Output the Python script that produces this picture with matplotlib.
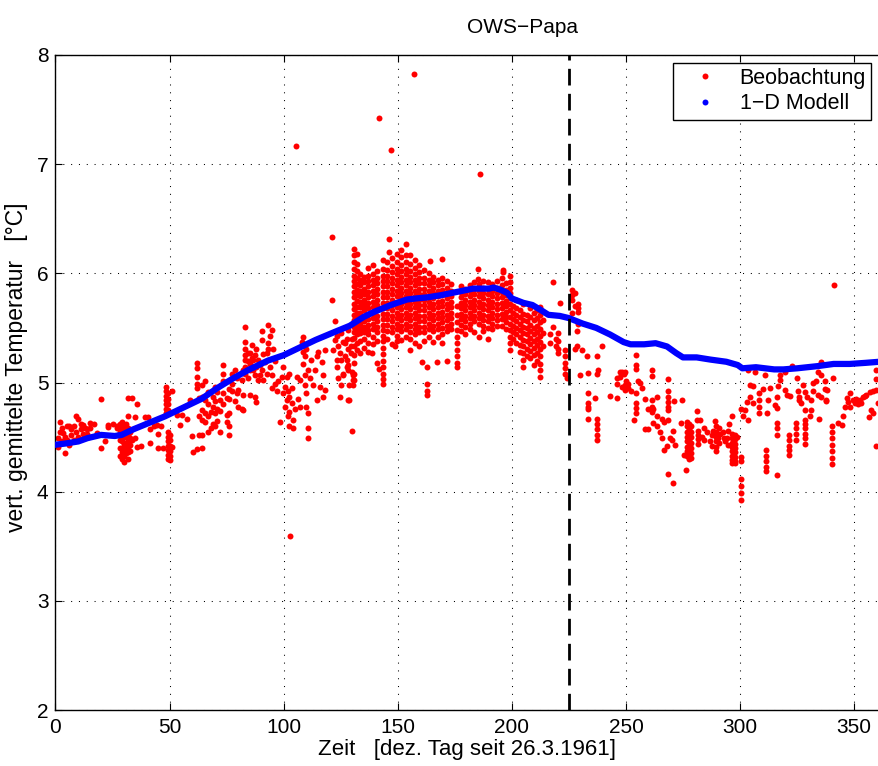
"""
OWS-Papa: vertikal gemittelte Temperatur, Beobachtung vs. 1-D Modell
"""
import matplotlib
matplotlib.use('Agg')
import matplotlib.pyplot as plt
from matplotlib.lines import Line2D

plt.rcParams['font.family'] = ['Liberation Sans', 'DejaVu Sans']

# ==================== Daten ====================
# 1-D Modell (Tag, Temperatur)
model_day = [0, 4, 10, 14, 20, 26, 29, 34, 41, 48, 55, 64, 71, 78, 85, 93, 100, 107, 114, 122,
             129, 135, 140, 147, 154, 158, 163, 169, 176, 183, 190, 192, 195, 198, 200, 205, 209,
             213, 216, 221, 225, 231, 237, 243, 249, 252, 258, 263, 268, 272, 275, 281, 287, 294,
             299, 301, 307, 315, 319, 325, 334, 341, 348, 355, 361]
model_temp = [4.43, 4.44, 4.46, 4.49, 4.52, 4.51, 4.52, 4.57, 4.63, 4.69, 4.76, 4.85, 4.95, 5.04,
              5.12, 5.20, 5.25, 5.32, 5.39, 5.46, 5.52, 5.60, 5.65, 5.71, 5.76, 5.77, 5.78, 5.80,
              5.83, 5.86, 5.86, 5.87, 5.85, 5.82, 5.77, 5.73, 5.71, 5.66, 5.62, 5.61, 5.59, 5.54,
              5.50, 5.44, 5.37, 5.35, 5.35, 5.36, 5.33, 5.27, 5.23, 5.23, 5.21, 5.19, 5.16, 5.13,
              5.14, 5.12, 5.12, 5.13, 5.15, 5.17, 5.17, 5.18, 5.19]

# Beobachtungen: (Tag, [Temperaturen des Profils])
obs_spring = [
    (1, [4.49, 4.41]), (2, [4.64, 4.55]), (3, [4.58, 4.46]), (3.5, [4.54]), (4.2, [4.35, 4.50]),
    (5, [4.60, 4.47]), (6, [4.60, 4.43]), (7, [4.57, 4.52]), (8, [4.60, 4.47]), (9, [4.69, 4.55]),
    (10, [4.67, 4.50]), (11, [4.62, 4.57]), (12, [4.53, 4.61]), (13, [4.58]), (14, [4.57, 4.53]),
    (15, [4.58, 4.63]), (17, [4.62]), (18, [4.54]), (20, [4.85, 4.40]), (21.7, [4.46]),
    (23, [4.59, 4.61]), (25, [4.62]), (27, [4.58, 4.60]),
    (28.5, [4.62, 4.55, 4.47, 4.40, 4.33]),
    (29.3, [4.64, 4.58, 4.52, 4.46, 4.40, 4.36, 4.30]),
    (30.1, [4.60, 4.54, 4.50, 4.44, 4.38, 4.33, 4.27]),
    (30.9, [4.62, 4.56, 4.50, 4.45, 4.40, 4.35]),
    (31.7, [4.86, 4.69, 4.58, 4.52, 4.46, 4.41, 4.36, 4.30]),
    (32.5, [4.55, 4.49, 4.43, 4.37]),
    (33.7, [4.86, 4.47]), (34.9, [4.68, 4.49]), (35.6, [4.80, 4.41]), (37.5, [4.42]),
    (39.2, [4.68]), (40.7, [4.68]), (41.4, [4.45, 4.57]), (43, [4.60]), (44.4, [4.61]),
    (45.1, [4.40, 4.53]), (46.3, [4.60]), (47.3, [4.40]),
    (48.5, [4.96, 4.92, 4.88, 4.84, 4.80, 4.76, 4.72]),
    (49.4, [4.90, 4.85, 4.80, 4.75, 4.55, 4.50, 4.46, 4.42, 4.38, 4.34, 4.30]),
    (50.3, [4.52, 4.47, 4.42, 4.37, 4.33, 4.29]),
    (51.2, [4.92, 4.41]), (53.1, [4.70]), (54.6, [4.61]), (55.3, [4.70]), (57.5, [4.67]),
    (58.9, [4.84]), (59.7, [4.51]), (60.4, [4.36]),
    (62, [5.18, 5.13, 5.05, 4.99, 4.95, 4.39]), (63, [4.86, 4.69, 4.52]),
]

obs_summer1 = [
    (64, [4.98, 4.87, 4.75, 4.66, 4.52, 4.40]), (65.5, [5.01, 4.84, 4.72, 4.64]),
    (67, [4.91, 4.80, 4.69, 4.55]), (68, [4.73, 4.58]), (69, [4.87, 4.78, 4.62]),
    (70, [4.96, 4.83, 4.72, 4.60]), (71, [4.91, 4.76, 4.65]), (72, [4.84, 4.74, 4.55]),
    (73.5, [5.16, 5.08, 5.01, 4.90, 4.80]), (75, [4.86, 4.70, 4.64]),
    (76, [4.94, 4.85, 4.72, 4.60, 4.52]), (77.2, [5.08, 4.99, 4.92]), (78.6, [5.11, 4.83]),
    (79.4, [5.04, 4.90]), (80.1, [4.93, 4.78]), (81.6, [4.76, 5.02]), (82.3, [5.11, 4.75, 4.89]),
    (83, [5.51, 5.37, 5.31, 5.25, 5.21, 5.14, 5.08]), (84.5, [5.04, 5.27, 5.20]),
    (85.2, [5.27, 5.17, 5.11, 4.89]), (86, [5.34, 5.22]), (86.7, [5.21, 5.11]),
    (87.4, [5.25, 5.07, 4.87]), (88.1, [5.31, 5.14, 4.82]), (88.9, [5.21, 5.02]),
    (89.6, [5.07, 5.16]), (90.3, [5.47, 5.39, 5.11]), (91, [5.02, 5.26]), (91.8, [5.19]),
    (92.5, [5.27, 5.08]), (93, [5.53, 5.36, 5.31]), (94, [5.43, 5.14]),
    (94.7, [5.48, 5.07, 4.95]), (95.4, [5.31]), (96.2, [4.99, 5.20]), (96.9, [4.92]),
    (97.6, [5.01]), (98.4, [4.64]), (99.1, [5.05]), (99.8, [5.14, 4.90]), (100.5, [4.96, 4.78]),
    (101.3, [5.05, 4.84]), (102, [4.92, 4.69]), (102.4, [5.08, 4.87, 4.73, 4.60]),
    (102.8, [3.59]), (103.5, [4.95, 4.81]), (103.9, [4.58]), (104.2, [4.66]), (104.9, [4.76]),
    (105.4, [7.17]), (105.7, [5.05]), (106.4, [4.85]), (107.1, [5.02, 4.78]), (107.9, [5.37]),
    (108.6, [5.42, 5.28, 5.17]), (109.3, [5.24, 5.07, 4.98]), (110, [5.31, 4.90, 4.78]),
    (110.8, [5.11, 4.72, 4.58, 4.49]), (111.5, [5.04]), (112.2, [5.21]), (113, [4.98]),
    (113.7, [5.11]), (114.4, [5.24, 4.84]), (115.2, [5.28]), (115.9, [4.96]), (116.6, [5.19]),
    (117.3, [5.07, 4.87]), (118.1, [5.30, 4.93]), (121.1, [5.76, 6.33]), (121.7, [5.30]),
    (122.5, [5.39, 5.56]), (123.2, [5.43, 5.21, 5.14]), (123.9, [5.33, 5.04]),
    (124.6, [5.27, 4.87]), (125.3, [5.21, 4.98, 5.45]), (126.1, [5.37, 5.07, 5.08]),
    (126.9, [5.36, 5.24]), (127.6, [5.21, 5.14, 5.40]), (128.3, [5.48, 5.31, 5.16, 4.84, 5.11]),
    (128.8, [4.84, 4.98]), (129.5, [5.33, 5.27]), (130, [4.56, 5.10, 5.40]),
    (130.4, [5.07, 5.02, 4.98]),
]

obs_summer2 = [
    (131, [6.22, 6.17, 6.10, 6.04, 5.98, 5.93, 5.88, 5.83, 5.78, 5.72, 5.67, 5.62, 5.57, 5.51,
           5.46, 5.41, 5.33, 5.25, 5.18, 5.08, 5.02]),
    (132, [6.18, 6.09, 6.02, 5.96, 5.90, 5.85, 5.80, 5.75, 5.69, 5.64, 5.59, 5.54, 5.49, 5.44,
           5.36, 5.30]),
    (133.5, [5.99, 5.94, 5.89, 5.84, 5.79, 5.74, 5.69, 5.64, 5.59, 5.54, 5.49, 5.45, 5.38, 5.27]),
    (135, [5.97, 5.92, 5.86, 5.81, 5.76, 5.71, 5.66, 5.61, 5.56, 5.51, 5.46, 5.40, 5.32]),
    (137, [6.05, 5.98, 5.93, 5.88, 5.83, 5.78, 5.73, 5.68, 5.63, 5.58, 5.53, 5.48, 5.44, 5.36,
           5.28]),
    (138.6, [5.27]),
    (139, [6.08, 5.99, 5.94, 5.89, 5.84, 5.79, 5.74, 5.69, 5.64, 5.59, 5.54, 5.49, 5.42, 5.35]),
    (141, [6.02, 5.96, 5.91, 5.86, 5.81, 5.76, 5.71, 5.66, 5.61, 5.56, 5.51, 5.46, 5.38, 5.18]),
    (142, [7.42, 5.12]),
    (143.5, [6.12, 6.04, 5.98, 5.93, 5.88, 5.83, 5.78, 5.73, 5.68, 5.63, 5.58, 5.53, 5.48, 5.43,
             5.38, 5.32, 5.26, 5.20, 5.14, 5.08, 5.03, 4.99]),
    (145.5, [6.10, 6.03, 5.98, 5.93, 5.88, 5.83, 5.78, 5.73, 5.68, 5.63, 5.58, 5.53, 5.47, 5.40]),
    (146.3, [6.31, 6.20]), (147, [7.13]),
    (147.5, [6.14, 6.07, 6.01, 5.96, 5.91, 5.86, 5.81, 5.76, 5.71, 5.66, 5.61, 5.56, 5.51, 5.46,
             5.35]),
    (148.8, [5.33]),
    (149.5, [6.18, 6.10, 6.04, 5.99, 5.94, 5.89, 5.84, 5.79, 5.74, 5.69, 5.64, 5.59, 5.54, 5.49,
             5.43, 5.38]),
    (151.5, [6.21, 6.15, 6.08, 6.02, 5.97, 5.92, 5.87, 5.82, 5.77, 5.72, 5.67, 5.62, 5.57, 5.52,
             5.47, 5.39]),
    (153.5, [6.27, 6.17, 6.10, 6.04, 5.99, 5.94, 5.89, 5.84, 5.79, 5.74, 5.69, 5.64, 5.59, 5.54,
             5.49, 5.42]),
    (155.5, [6.17, 6.09, 6.02, 5.97, 5.92, 5.87, 5.82, 5.77, 5.72, 5.67, 5.62, 5.57, 5.52, 5.46,
             5.40, 5.30]),
    (157, [7.83]),
    (157.5, [6.12, 6.05, 5.99, 5.94, 5.89, 5.84, 5.79, 5.74, 5.69, 5.64, 5.59, 5.54, 5.49, 5.44,
             5.36]),
    (159.5, [6.08, 6.01, 5.96, 5.91, 5.86, 5.81, 5.76, 5.71, 5.66, 5.61, 5.56, 5.51, 5.46, 5.33]),
    (160.5, [5.19]),
    (161.5, [6.03, 5.96, 5.91, 5.86, 5.81, 5.76, 5.71, 5.66, 5.61, 5.56, 5.51, 5.46, 5.38]),
    (163, [5.14, 4.99, 4.92, 4.89]),
    (163.5, [6.00, 5.94, 5.89, 5.84, 5.79, 5.74, 5.69, 5.64, 5.59, 5.54, 5.49, 5.42]),
    (164.1, [6.11]),
    (165.5, [5.97, 5.92, 5.87, 5.82, 5.77, 5.72, 5.67, 5.62, 5.57, 5.52, 5.47, 5.37]),
    (167, [5.19]),
    (167.5, [5.94, 5.89, 5.84, 5.79, 5.74, 5.69, 5.64, 5.59, 5.54, 5.49, 5.42]),
    (169.3, [6.13]),
    (169.5, [5.96, 5.90, 5.85, 5.80, 5.75, 5.70, 5.65, 5.60, 5.55, 5.50, 5.44, 5.36]),
    (171.5, [5.93, 5.87, 5.82, 5.77, 5.72, 5.67, 5.62, 5.57, 5.52, 5.47, 5.20]),
    (173.5, [5.90, 5.84, 5.79, 5.74, 5.69, 5.64, 5.59, 5.54, 5.49]),
    (175.8, [5.70, 5.62, 5.55, 5.48, 5.42, 5.36, 5.30, 5.24, 5.18, 5.14]),
    (177.5, [5.88, 5.83, 5.78, 5.73, 5.68, 5.63, 5.58, 5.53, 5.47]),
    (179.5, [5.86, 5.81, 5.76, 5.71, 5.66, 5.61, 5.56, 5.51, 5.44]),
    (181.5, [5.89, 5.84, 5.79, 5.74, 5.69, 5.64, 5.59, 5.54, 5.49]),
    (183.5, [5.92, 5.86, 5.81, 5.76, 5.71, 5.66, 5.61, 5.56, 5.46]),
    (185.3, [6.04, 5.95]), (186, [6.91]),
    (185.5, [5.90, 5.84, 5.79, 5.74, 5.69, 5.64, 5.59, 5.54, 5.42]),
    (187.5, [5.93, 5.87, 5.82, 5.77, 5.72, 5.67, 5.62, 5.57, 5.52, 5.47]),
    (189.5, [5.92, 5.86, 5.81, 5.76, 5.71, 5.66, 5.61, 5.56, 5.50, 5.40]),
    (191.5, [5.90, 5.84, 5.79, 5.74, 5.69, 5.64, 5.59, 5.54, 5.49]),
    (193.5, [5.93, 5.87, 5.82, 5.77, 5.72, 5.67, 5.62, 5.57, 5.52]),
    (195.5, [5.96, 5.89, 5.83, 5.78, 5.73, 5.68, 5.63, 5.58, 5.52]),
    (196.3, [6.03, 6.01]),
    (197.5, [5.91, 5.85, 5.80, 5.75, 5.70, 5.65, 5.60, 5.55, 5.49]),
    (199, [5.98, 5.92, 5.87, 5.82, 5.77, 5.72, 5.66, 5.60, 5.54, 5.48, 5.42, 5.36, 5.30]),
]

obs_autumn1 = [
    (200.6, [5.70, 5.64, 5.58, 5.52, 5.46, 5.40]),
    (202, [5.76, 5.68, 5.62, 5.56, 5.50, 5.44, 5.36]),
    (203.5, [5.66, 5.60, 5.54, 5.48, 5.42, 5.34, 5.28]),
    (205, [5.72, 5.63, 5.57, 5.51, 5.45, 5.39, 5.33, 5.27, 5.21, 5.14]),
    (206.5, [5.62, 5.56, 5.50, 5.44, 5.38, 5.31, 5.24]),
    (208, [5.68, 5.60, 5.53, 5.47, 5.41, 5.35, 5.29, 5.22]),
    (209.5, [5.64, 5.57, 5.50, 5.44, 5.38, 5.32, 5.25, 5.16]),
    (211, [5.66, 5.59, 5.52, 5.46, 5.40, 5.34, 5.27, 5.20]),
    (212.3, [5.69, 5.62, 5.55, 5.49, 5.43, 5.37, 5.31, 5.24, 5.17, 5.11, 5.05]),
    (213.8, [5.57, 5.45, 5.33]), (216.7, [5.44, 5.36]), (218.1, [5.92, 5.51]),
    (219.5, [5.40, 5.33]), (220.3, [5.45, 5.38, 5.31, 5.27]), (221, [5.73]),
    (223.2, [5.30, 5.24, 5.18, 5.13, 5.08]), (224.3, [5.04]),
    (226.2, [5.85, 5.80, 5.76, 5.64]), (227.5, [5.82, 5.70, 5.31]),
    (229.1, [5.72, 5.68, 5.65, 5.54]), (228.4, [5.47, 5.33]), (229.9, [5.07]), (230.6, [5.30]),
    (232.8, [5.24]), (233.5, [5.09, 4.90, 4.81, 4.78, 4.76, 4.67]), (236.4, [4.86]),
    (237.1, [5.24, 5.08, 4.67, 4.62, 4.57, 4.52, 4.47]), (237.9, [5.11]), (239.3, [5.33]),
    (243, [4.88]), (245.9, [4.99, 4.86, 5.04]), (247.4, [5.10, 5.05]),
    (249.6, [5.10, 4.93, 4.98]),
]

obs_autumn2 = [
    (248.1, [5.10, 4.96]), (249.2, [5.08]), (250, [5.01]), (251, [4.99, 4.95]), (252, [4.92]),
    (253.5, [4.66]), (254.3, [5.25, 5.16, 5.12, 4.90, 4.81, 4.77, 4.72]), (255.2, [5.01]),
    (256, [5.00]), (257, [4.95]), (258.4, [4.85, 4.57]), (259.6, [4.76, 4.57]),
    (261.3, [5.11, 5.06, 4.84, 4.78, 4.73]), (262, [4.76, 4.63]), (263.5, [4.87, 4.69, 4.60]),
    (264.9, [4.55]), (265.7, [4.67, 4.49]), (266.5, [4.64]), (266.7, [4.38]), (267.9, [4.42]),
    (268.3, [5.03, 4.92, 4.87, 4.82, 4.78, 4.75, 4.66]), (268.6, [4.16]), (269.3, [4.49]),
    (270, [4.47]), (270.8, [4.56, 4.08]), (271.5, [4.43]), (271.2, [4.83]), (274.4, [4.84]),
    (274.1, [4.63]), (275.4, [4.34]), (276.3, [4.20]),
    (276.6, [4.64, 4.60, 4.55, 4.50, 4.46, 4.41, 4.37, 4.33]),
    (277.5, [4.62, 4.57, 4.52, 4.47, 4.43, 4.38, 4.34, 4.30]),
    (278.5, [4.60, 4.55, 4.50, 4.45, 4.40, 4.35, 4.31]),
    (281, [4.74, 4.66]), (281.7, [4.56, 4.52, 4.48, 4.44]), (282.5, [4.66]), (283.2, [4.50]),
    (284, [4.58, 4.47]), (285.7, [4.55]), (286.8, [4.46]), (287.5, [4.52, 4.42]),
    (288.3, [4.56]), (289, [4.65]), (289.5, [4.60, 4.55, 4.50, 4.46, 4.41, 4.37]),
    (290.5, [4.49]), (291, [4.58, 4.45]), (291.3, [4.53]), (292.4, [4.55]), (292.8, [4.49]),
    (293.4, [4.46]), (294.1, [4.49]), (294.8, [4.56, 4.43]), (295.3, [4.62]),
    (296.3, [4.69, 4.53, 4.49, 4.45, 4.41, 4.37, 4.33, 4.29, 4.26]),
    (297.8, [4.52, 4.48, 4.44, 4.40, 4.36, 4.32, 4.28, 4.26]), (298.5, [4.50]),
    (300.3, [4.76, 4.32, 4.28, 4.12, 4.05, 3.99, 3.92]), (301.5, [4.69]), (302.2, [4.75]),
    (302.9, [4.82]), (303.3, [4.66]), (303.6, [5.11]), (304.4, [4.98]),
]

obs_winter = [
    (304.3, [4.87]), (305.8, [4.97, 4.81]), (306.5, [5.10]), (308.4, [4.90, 4.84, 4.78, 4.72]),
    (310.1, [4.94]), (310.9, [5.07]), (311.3, [4.38, 4.33, 4.28, 4.23, 4.19]), (311.6, [4.72]),
    (312.3, [4.84]), (313.1, [4.95]), (315.3, [4.79]),
    (316.3, [4.87, 4.77, 4.63, 4.58, 4.52, 4.15]), (316.7, [4.97]), (317.7, [5.07, 5.02]),
    (319.6, [5.10, 4.93]), (320.4, [4.89]), (321.5, [4.52, 4.47, 4.42, 4.38, 4.34]),
    (322, [4.88]), (322.6, [5.15]), (324.5, [4.63, 4.58, 4.53, 4.47]), (324.8, [5.04]),
    (325.5, [4.92]), (325.9, [4.87, 4.84]), (326.8, [4.81]), (327.7, [4.98]),
    (328.4, [4.75, 4.66, 4.62, 4.58, 4.53, 4.49, 4.44]), (328.6, [4.91]), (329.4, [4.87]),
    (330.6, [4.69]), (331.3, [4.84, 4.75]), (332, [5.00, 4.92]), (333.5, [5.01]),
    (334.2, [5.10, 4.89]), (334.5, [4.67]), (335.7, [5.19, 5.07, 4.87]), (337.2, [5.01, 4.94]),
    (337.6, [4.84, 4.83]), (338.2, [4.93]),
    (340.4, [4.60, 4.55, 4.49, 4.43, 4.37, 4.31, 4.25]), (340.8, [5.04]), (341.2, [5.89]),
    (343, [4.63]), (344.5, [4.61]), (345.2, [4.69]), (346, [4.78]), (346.7, [4.86]),
    (347.4, [4.82]), (348.1, [4.78]), (348.4, [4.90]), (349.6, [4.84]), (350.3, [4.81]),
    (351, [4.85]), (351.8, [4.80]), (352.5, [4.84]), (353.2, [4.81]), (354, [4.87]),
    (354.7, [4.88]), (355.4, [4.89]), (356.6, [4.68]), (356.9, [4.91]), (357.6, [4.75]),
    (358.3, [4.92, 4.72]), (359.5, [5.11, 5.03, 4.42]), (359.8, [4.93]), (360.5, [4.81]),
]

marker_day = 225  # gestrichelte Markierung


def flatten(groups):
    xs, ys = [], []
    for day, temps in groups:
        for t in temps:
            xs.append(day)
            ys.append(t)
    return xs, ys


obs_x, obs_y = [], []
for grp in [obs_spring, obs_summer1, obs_summer2, obs_autumn1, obs_autumn2, obs_winter]:
    gx, gy = flatten(grp)
    obs_x += gx
    obs_y += gy

# ==================== Plot ====================
fig = plt.figure(figsize=(8.79, 7.66), dpi=100)
ax = fig.add_axes([0.0631, 0.0731, 0.9369, 0.8551])

ax.plot(obs_x, obs_y, 'o', color='#ff0000', ms=4.3, mec='none', zorder=2)
ax.plot(model_day, model_temp, '-', color='#0000ff', lw=4.5, zorder=3)
ax.plot([marker_day, marker_day], [2, 8], color='k', lw=2.0, ls=(0, (6, 3)), zorder=4)

ax.set_xlim(0, 360.9)
ax.set_ylim(2, 8)
ax.set_xticks(range(0, 351, 50))
ax.set_yticks(range(2, 9))
ax.grid(True, color='k', ls=(0, (1, 6.5)), lw=0.75)
ax.set_axisbelow(True)
ax.tick_params(direction='in', length=5, width=0.8, top=True, right=False,
               labelsize=15, pad=6)
ax.tick_params(axis='y', pad=5)
for s in ['left', 'top', 'bottom']:
    ax.spines[s].set_linewidth(1.0)
ax.spines['right'].set_visible(False)

ax.set_xlabel('Zeit   [dez. Tag seit 26.3.1961]', fontsize=16, labelpad=1)
ax.set_ylabel('vert. gemittelte Temperatur   [°C]', fontsize=16.5)
ax.yaxis.set_label_coords(-0.033, 0.524)
fig.text(523 / 879, 1 - 33 / 766, 'OWS\u2212Papa', fontsize=15, ha='center', va='baseline')

handles = [Line2D([], [], ls='none', marker='o', color='#ff0000', ms=4.3, mec='none'),
           Line2D([], [], ls='none', marker='o', color='#0000ff', ms=4.3, mec='none')]
leg = ax.legend(handles, ['Beobachtung', '1\u2212D Modell'], loc='upper right', fontsize=15.5,
                fancybox=False, framealpha=1, edgecolor='k', borderaxespad=0.35,
                borderpad=0.25, handlelength=2.5, handletextpad=0.35, labelspacing=0.2)
leg.get_frame().set_linewidth(1.0)

fig.savefig('out.png', dpi=100)
